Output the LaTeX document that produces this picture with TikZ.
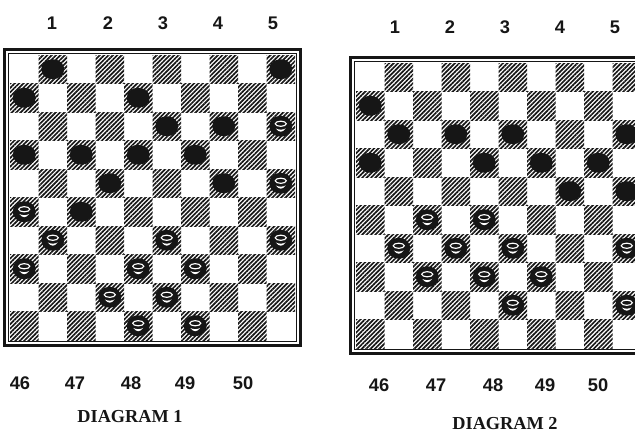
\documentclass[tikz,border=0pt]{standalone}
\usepackage{fontspec}
\setmainfont{Liberation Serif}
\newfontfamily\numfont{Liberation Sans}
\usetikzlibrary{patterns.meta}
\definecolor{myink}{RGB}{22,22,22}
\tikzset{
  darksq/.style={pattern={Lines[angle=45,distance=2.2pt,line width=1.15pt]}, pattern color=myink},
  thickframe/.style={draw=myink, line width=2.6pt},
  thinframe/.style={draw=myink, line width=0.6pt},
  numlbl/.style={font=\numfont\bfseries\fontsize{13}{14}\selectfont, text=myink, inner sep=0pt},
  caption/.style={font=\bfseries\fontsize{13}{14}\selectfont, text=myink, inner sep=0pt},
  blackpc/.pic={\fill[myink] (0,0) ellipse (11.5 and 10);},
  whitepc/.pic={
    \fill[myink] (0,0) ellipse (11.5 and 10.5);
    \draw[white, line width=0.8pt] (0,-2.5) ellipse (5.5 and 2.6);
    \fill[white] (-5,2.2) .. controls (-2,6.5) and (2,6.5) .. (5,2.2)
      .. controls (2,3.8) and (-2,3.8) .. (-5,2.2);}
}
% board: grid origin x, y
\newcommand{\drawboard}[2]{%
  \begin{scope}[shift={(#1,#2)}]
    \foreach \r in {0,...,9}
      \foreach \c in {0,...,9}{
        \pgfmathtruncatemacro{\odd}{mod(\r+\c,2)}
        \ifnum\odd=1 \path[darksq] (\c*28.5,\r*28.5) rectangle ++(28.5,28.5);\fi
      }
    \draw[thinframe] (-1.5,-1.5) rectangle (286.5,286.5);
    \draw[thickframe] (-5.5,-5.5) rectangle (290.5,290.5);
  \end{scope}}

\begin{document}
\begin{tikzpicture}[x=0.025cm, y=-0.025cm]
  \useasboundingbox (0,0) rectangle (635,435);
  \fill[white] (0,0) rectangle (635,435);
  \clip (0,0) rectangle (635,435);

  % Diagram 1
  \drawboard{10}{55}
  \begin{scope}[shift={(10,55)}]
    \foreach \r/\c in {1/2,1/10,2/1,2/5,3/6,3/8,4/1,4/3,4/5,4/7,5/4,5/8,6/3}
      \pic at ({(\c-0.5)*28.5},{(\r-0.5)*28.5}) {blackpc};
    \foreach \r/\c in {3/10,5/10,6/1,7/2,7/6,7/10,8/1,8/5,8/7,9/4,9/6,10/5,10/7}
      \pic at ({(\c-0.5)*28.5},{(\r-0.5)*28.5}) {whitepc};
  \end{scope}

  % Diagram 2
  \drawboard{356}{63}
  \begin{scope}[shift={(356,63)}]
    \foreach \r/\c in {2/1,3/2,3/4,3/6,3/10,4/1,4/5,4/7,4/9,5/8,5/10}
      \pic at ({(\c-0.5)*28.5},{(\r-0.5)*28.5}) {blackpc};
    \foreach \r/\c in {6/3,6/5,7/2,7/4,7/6,7/10,8/3,8/5,8/7,9/6,9/10}
      \pic at ({(\c-0.5)*28.5},{(\r-0.5)*28.5}) {whitepc};
  \end{scope}

  % square numbers
  \foreach \n/\x in {1/52,2/108,3/163,4/218,5/273}
    \node[numlbl] (top1n\n) at (\x,23) {\n};
  \foreach \n/\x in {1/395,2/450,3/505,4/560,5/615}
    \node[numlbl] (top2n\n) at (\x,27) {\n};
  \foreach \n/\x in {46/20,47/75,48/131,49/185,50/243}
    \node[numlbl] (bot1n\n) at (\x,383) {\n};
  \foreach \n/\x in {46/379,47/436,48/493,49/545,50/598}
    \node[numlbl] (bot2n\n) at (\x,385) {\n};

  \node[caption] (cap1) at (130,417) {DIAGRAM 1};
  \node[caption] (cap2) at (505,424) {DIAGRAM 2};
\end{tikzpicture}
\end{document}
